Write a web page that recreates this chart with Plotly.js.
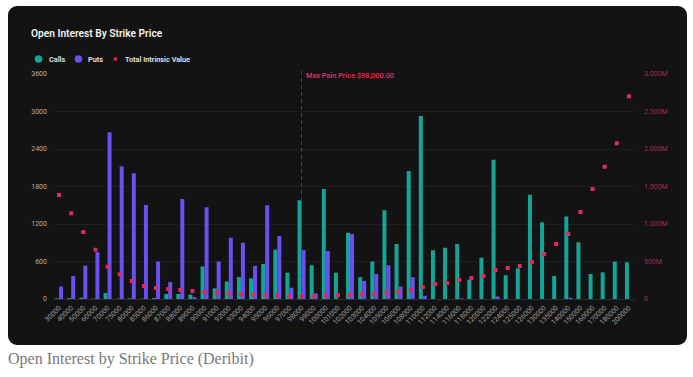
<!DOCTYPE html>
<html>
<head>
<meta charset="utf-8">
<script src="https://cdn.plot.ly/plotly-3.0.1.min.js"></script>
<style>
  html, body { margin: 0; padding: 0; background: #ffffff; width: 693px; height: 377px; overflow: hidden; }
  #panel { position: absolute; left: 8px; top: 6px; width: 679px; height: 339px; background: #131313; border-radius: 9px; overflow: hidden; }
  #chart { width: 679px; height: 339px; }
  #caption { position: absolute; left: 8px; top: 350px; font-family: "Liberation Serif", serif; font-size: 16px; color: #777777; }
</style>
</head>
<body>
<div id="panel"><div id="chart"></div></div>
<div id="caption">Open Interest by Strike Price (Deribit)</div>
<script>
const strikes = [30000, 40000, 50000, 60000, 70000, 75000, 80000, 85000, 86000, 87000, 88000, 89000, 90000, 91000, 92000, 93000, 94000, 95000, 96000, 97000, 98000, 99000, 100000, 101000, 102000, 103000, 104000, 105000, 106000, 108000, 110000, 112000, 114000, 116000, 118000, 120000, 122000, 124000, 125000, 126000, 130000, 135000, 140000, 150000, 160000, 170000, 180000, 200000];
const calls = [10, 15, 20, 5, 96, 5, 10, 5, 15, 80, 80, 70, 520, 170, 280, 350, 330, 560, 790, 420, 1580, 540, 1760, 420, 1060, 350, 600, 1420, 880, 2050, 2930, 780, 820, 880, 310, 660, 2230, 380, 490, 1670, 1230, 370, 1320, 910, 400, 427, 597, 587];
const puts = [200, 368, 533, 747, 2667, 2123, 2011, 1504, 600, 270, 1600, 30, 1470, 600, 980, 900, 530, 1500, 1010, 180, 780, 90, 770, 0, 1040, 290, 400, 540, 200, 350, 50, 0, 0, 10, 0, 0, 40, 0, 0, 0, 0, 0, 20, 0, 0, 0, 0, 0];
const intrinsicM = [1387, 1143, 893, 658, 431, 329, 240, 173, 147, 133, 120, 107, 95, 85, 75, 65, 57, 50, 45, 40, 37, 40, 45, 50, 56, 62, 70, 80, 95, 120, 160, 200, 213, 253, 280, 307, 387, 413, 440, 493, 600, 733, 867, 1160, 1467, 1764, 2076, 2702];
const leftTicks = [0, 600, 1200, 1800, 2400, 3000, 3600];
const rightTickVals = [0, 500, 1000, 1500, 2000, 2500, 3000];
const rightTickText = ["0", "500M", "1.000M", "1.500M", "2.000M", "2.500M", "3.000M"];
const maxPainStrike = 98000;
const maxPainLabel = "Max Pain Price $98,000.00";

const cats = strikes.map(String);
const painIdx = strikes.indexOf(maxPainStrike);
const TEAL = "#14a596", PURPLE = "#6b4ff2", RED = "#e3285c";
const F = "Roboto, 'Noto Sans', sans-serif";

const traces = [
  { type: "bar", name: "Calls", x: cats, y: calls, marker: { color: TEAL }, showlegend: false, hoverinfo: "skip" },
  { type: "bar", name: "Puts", x: cats, y: puts, marker: { color: PURPLE }, showlegend: false, hoverinfo: "skip" },
  { type: "scatter", mode: "markers", name: "Total Intrinsic Value", x: cats, y: intrinsicM.map(v => v * 1e6), yaxis: "y2",
    marker: { color: RED, size: 4, symbol: "square" }, showlegend: false, hoverinfo: "skip" }
];

const PL = 44.5, PW = 583, PB = 293, PH = 225, LEGY = 53;
function px2paperX(pageX) { return (pageX - 8 - PL) / PW; }
const legY = (PB - LEGY) / PH;
function legendCircle(pageX, color) {
  return { type: "circle", xref: "paper", yref: "paper", xsizemode: "pixel", ysizemode: "pixel",
    xanchor: px2paperX(pageX), yanchor: legY, x0: -3.8, x1: 3.8, y0: -3.8, y1: 3.8,
    fillcolor: color, line: { width: 0 } };
}
function legendText(pageX, txt) {
  return { xref: "paper", yref: "paper", x: px2paperX(pageX), y: legY, xanchor: "left", yanchor: "middle",
    text: txt, showarrow: false, font: { family: F, size: 7.3, color: "#e6e6e6", weight: 600 } };
}

const layout = {
  width: 679, height: 339,
  paper_bgcolor: "rgba(0,0,0,0)", plot_bgcolor: "rgba(0,0,0,0)",
  margin: { l: PL, r: 679 - PL - PW, t: 68, b: 339 - PB },
  barmode: "group", bargap: 0.34, bargroupgap: 0,
  showlegend: false,
  title: { text: "Open Interest By Strike Price", xref: "container", yref: "container", x: 23 / 679, xanchor: "left",
    y: 1 - 27 / 339, yanchor: "middle", font: { family: F, size: 10.2, color: "#f2f2f2", weight: 600 } },
  xaxis: { type: "category", range: [-0.5, strikes.length - 0.5], autorange: false, tickangle: -45,
    tickfont: { family: F, size: 7, color: "#9a9a9a" },
    showgrid: false, showline: true, linecolor: "#2c2c2c", linewidth: 1, zeroline: false, ticks: "", ticklabelstandoff: 1 },
  yaxis: { range: [0, 3600], autorange: false, tickvals: leftTicks, ticktext: leftTicks.map(String), tickfont: { family: F, size: 7, color: "#b0b0b0" },
    gridcolor: "#1e1e1e", gridwidth: 1, zeroline: false, showline: false, ticks: "", ticklabelstandoff: 5 },
  yaxis2: { overlaying: "y", side: "right", range: [0, 3000e6], autorange: false, tickvals: rightTickVals.map(v => v * 1e6), ticktext: rightTickText,
    tickfont: { family: F, size: 7, color: "#a3284d" }, showgrid: false, zeroline: false, showline: false, ticks: "", ticklabelstandoff: 8 },
  shapes: [
    { type: "line", xref: "x", yref: "paper", x0: painIdx, x1: painIdx, y0: 0, y1: 1.02,
      line: { color: "#8c2646", width: 1, dash: "4px,3px" } },
    legendCircle(38, TEAL), legendCircle(78, PURPLE),
    { type: "rect", xref: "paper", yref: "paper", xsizemode: "pixel", ysizemode: "pixel",
      xanchor: px2paperX(115), yanchor: legY, x0: -1.6, x1: 1.6, y0: -1.6, y1: 1.6, fillcolor: RED, line: { width: 0 } }
  ],
  annotations: [
    { xref: "x", yref: "paper", x: painIdx, y: 1 - (76 - 6 - 68) / PH, xanchor: "left", yanchor: "middle", xshift: 2,
      text: maxPainLabel, showarrow: false, font: { family: F, size: 7.3, color: RED, weight: 600 } },
    legendText(46, "Calls"), legendText(86, "Puts"), legendText(123, "Total Intrinsic Value")
  ]
};

Plotly.newPlot("chart", traces, layout, { displayModeBar: false, staticPlot: true });
</script>
</body>
</html>
